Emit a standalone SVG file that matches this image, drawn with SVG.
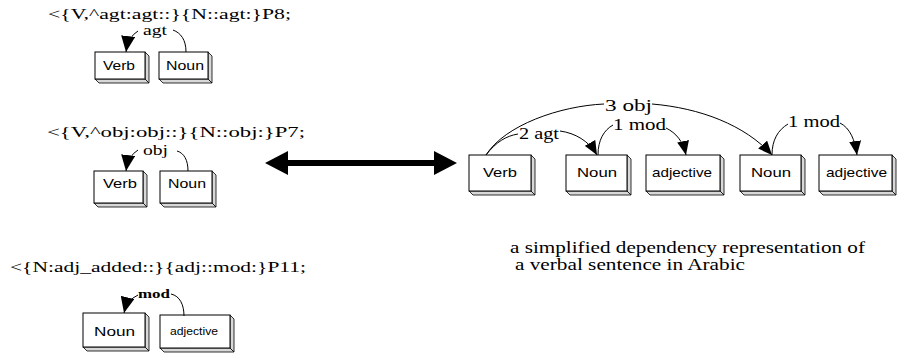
<svg xmlns="http://www.w3.org/2000/svg" width="898" height="358" viewBox="0 0 898 358">
<style>
.t{font-family:"Liberation Serif","Times New Roman",serif;font-size:15px;fill:#000}
.l{font-family:"Liberation Serif","Times New Roman",serif;font-size:16px;fill:#000}
.b{font-family:"Liberation Sans",Arial,sans-serif;font-size:13px;fill:#000}
.f{fill:#fff;stroke:#000;stroke-width:1}
.s{fill:#d8d8d8;stroke:#000;stroke-width:0.8}
.c{fill:none;stroke:#000;stroke-width:1}
</style>
<defs>
<marker id="ah" viewBox="0 0 14 12" refX="14" refY="6" markerWidth="14" markerHeight="12" markerUnits="userSpaceOnUse" orient="auto"><path d="M0,0 L14,6 L0,12 z" fill="#000"/></marker>
<marker id="ahL" viewBox="0 0 16 14" refX="16" refY="7" markerWidth="16" markerHeight="14" markerUnits="userSpaceOnUse" orient="auto"><path d="M0,0 L16,7 L0,14 z" fill="#000"/></marker>
</defs>
<rect width="898" height="358" fill="#fff"/>

<text class="t" x="48" y="19" textLength="243" lengthAdjust="spacingAndGlyphs">&lt;{V,^agt:agt::}{N::agt:}P8;</text>
<text class="t" x="47" y="137" textLength="258" lengthAdjust="spacingAndGlyphs">&lt;{V,^obj:obj::}{N::obj:}P7;</text>
<text class="t" x="10" y="272" textLength="296" lengthAdjust="spacingAndGlyphs">&lt;{N:adj_added::}{adj::mod:}P11;</text>
<text class="l" x="510" y="253" textLength="355" lengthAdjust="spacingAndGlyphs">a simplified dependency representation of</text>
<text class="l" x="515" y="270" textLength="230" lengthAdjust="spacingAndGlyphs">a verbal sentence in Arabic</text>

<g id="n-verb1"><polygon class="s" points="145,52 149,56 149,83 145,79"/><polygon class="s" points="95,79 145,79 149,83 99,83"/><rect class="f" x="95" y="52" width="50" height="27"/><text class="b" x="103" y="70" textLength="32" lengthAdjust="spacingAndGlyphs">Verb</text></g>
<g id="n-noun1"><polygon class="s" points="208,52 212,56 212,83 208,79"/><polygon class="s" points="159,79 208,79 212,83 163,83"/><rect class="f" x="159" y="52" width="49" height="27"/><text class="b" x="166" y="70" textLength="38" lengthAdjust="spacingAndGlyphs">Noun</text></g>

<g id="n-verb2"><polygon class="s" points="143,171 147,175 147,207 143,203"/><polygon class="s" points="94,203 143,203 147,207 98,207"/><rect class="f" x="94" y="171" width="49" height="32"/><text class="b" x="103" y="188" textLength="34" lengthAdjust="spacingAndGlyphs">Verb</text></g>
<g id="n-noun2"><polygon class="s" points="212,171 216,175 216,207 212,203"/><polygon class="s" points="160,203 212,203 216,207 164,207"/><rect class="f" x="160" y="171" width="52" height="32"/><text class="b" x="168" y="188" textLength="38" lengthAdjust="spacingAndGlyphs">Noun</text></g>

<g id="n-noun3"><polygon class="s" points="145,313 149,317 149,351 145,347"/><polygon class="s" points="83,347 145,347 149,351 87,351"/><rect class="f" x="83" y="313" width="62" height="34"/><text class="b" x="94" y="336" textLength="41" lengthAdjust="spacingAndGlyphs">Noun</text></g>
<g id="n-adj3"><polygon class="s" points="230,315 234,319 234,352 230,348"/><polygon class="s" points="160,348 230,348 234,352 164,352"/><rect class="f" x="160" y="315" width="70" height="33"/><text class="b" x="170" y="335" style="font-size:10px" textLength="48" lengthAdjust="spacingAndGlyphs">adjective</text></g>

<g id="n-verbR"><polygon class="s" points="531,155 535,159 535,195 531,191"/><polygon class="s" points="469,191 531,191 535,195 473,195"/><rect class="f" x="469" y="155" width="62" height="36"/><text class="b" x="483" y="177" textLength="34" lengthAdjust="spacingAndGlyphs">Verb</text></g>
<g id="n-nounR1"><polygon class="s" points="627,155 631,159 631,195 627,191"/><polygon class="s" points="566,191 627,191 631,195 570,195"/><rect class="f" x="566" y="155" width="61" height="36"/><text class="b" x="577" y="177" textLength="40" lengthAdjust="spacingAndGlyphs">Noun</text></g>
<g id="n-adjR1"><polygon class="s" points="720,155 724,159 724,195 720,191"/><polygon class="s" points="646,191 720,191 724,195 650,195"/><rect class="f" x="646" y="155" width="74" height="36"/><text class="b" x="652" y="177" textLength="60" lengthAdjust="spacingAndGlyphs">adjective</text></g>
<g id="n-nounR2"><polygon class="s" points="801,155 805,159 805,195 801,191"/><polygon class="s" points="740,191 801,191 805,195 744,195"/><rect class="f" x="740" y="155" width="61" height="36"/><text class="b" x="751" y="177" textLength="40" lengthAdjust="spacingAndGlyphs">Noun</text></g>
<g id="n-adjR2"><polygon class="s" points="892,155 896,159 896,195 892,191"/><polygon class="s" points="819,191 892,191 896,195 823,195"/><rect class="f" x="819" y="155" width="73" height="36"/><text class="b" x="826" y="177" textLength="61" lengthAdjust="spacingAndGlyphs">adjective</text></g>

<g id="connectors">
<path class="c" d="M138,31 Q128,37 126,52" marker-end="url(#ahL)"/>
<path class="c" d="M186,52 C186,40 181,33 173,30"/>
<text class="t" x="143" y="35" textLength="24" lengthAdjust="spacingAndGlyphs">agt</text>

<path class="c" d="M138,150 Q128,156 126,171" marker-end="url(#ahL)"/>
<path class="c" d="M188,171 C188,160 184,153 177,151"/>
<text class="t" x="143" y="155" textLength="25" lengthAdjust="spacingAndGlyphs">obj</text>

<path class="c" d="M138,295 Q127,300 124,313" marker-end="url(#ahL)"/>
<path class="c" d="M184,316 C184,305 180,296 171,294"/>
<text class="t" x="138" y="298" style="font-size:13px;font-weight:bold" textLength="32" lengthAdjust="spacingAndGlyphs">mod</text>

<polygon points="265,163 288,151 288,160 434,160 434,151 457,163 434,175 434,166 288,166 288,175" fill="#000"/>

<path class="c" d="M486,155 C505,125 560,106 604,104"/>
<path class="c" d="M486,155 C496,142 506,136 518,134"/>
<text class="l" x="519" y="139" textLength="40" lengthAdjust="spacingAndGlyphs">2 agt</text>
<path class="c" d="M560,131 C575,133 589,141 597,155" marker-end="url(#ah)"/>
<text class="l" x="605" y="111" textLength="47" lengthAdjust="spacingAndGlyphs">3 obj</text>
<path class="c" d="M652,104 C700,108 745,125 772,155" marker-end="url(#ah)"/>
<path class="c" d="M598,155 C598,140 604,130 613,125"/>
<text class="l" x="613" y="130" textLength="53" lengthAdjust="spacingAndGlyphs">1 mod</text>
<path class="c" d="M666,128 C676,133 683,141 686,155" marker-end="url(#ah)"/>
<path class="c" d="M772,155 C772,140 778,130 788,124"/>
<text class="l" x="788" y="127" textLength="52" lengthAdjust="spacingAndGlyphs">1 mod</text>
<path class="c" d="M840,123 C850,128 855,140 857,155" marker-end="url(#ah)"/>
</g>
</svg>
